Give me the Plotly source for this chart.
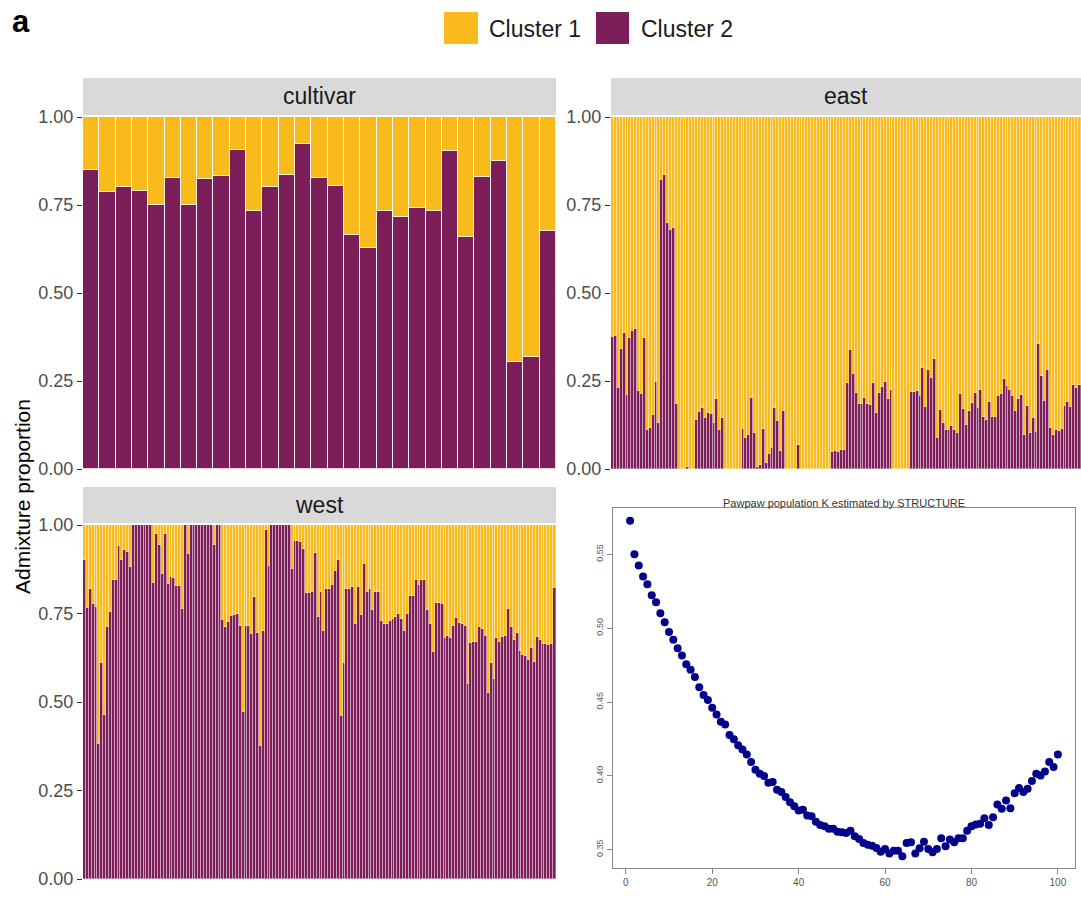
import plotly.graph_objects as go

W, H = 1081, 899

# ---------------- data ----------------
cultivar_c2 = [0.849, 0.787, 0.801, 0.790, 0.751, 0.828, 0.751, 0.825, 0.833, 0.906,
               0.734, 0.800, 0.836, 0.922, 0.828, 0.804, 0.664, 0.629, 0.734, 0.717,
               0.742, 0.734, 0.903, 0.659, 0.830, 0.876, 0.304, 0.317, 0.676]

east_c2 = [0.375, 0.378, 0.229, 0.340, 0.386, 0.211, 0.373, 0.393, 0.397, 0.222,
           0.213, 0.373, 0.112, 0.116, 0.153, 0.246, 0.132, 0.822, 0.834, 0.699,
           0.680, 0.685, 0.184, 0, 0, 0, 0.005, 0, 0, 0.139,
           0.163, 0.172, 0.144, 0.159, 0.156, 0.132, 0.198, 0.112, 0.144, 0,
           0, 0, 0, 0, 0, 0.115, 0.088, 0.097, 0.203, 0.102,
           0.005, 0.012, 0.115, 0.016, 0.043, 0.061, 0.172, 0.137, 0.050, 0.165,
           0, 0, 0, 0, 0.068, 0, 0, 0, 0, 0,
           0, 0, 0, 0, 0, 0, 0.047, 0.050, 0.047, 0.055,
           0.055, 0.244, 0.338, 0.269, 0.217, 0.184, 0.184, 0.203, 0.184, 0.182,
           0.244, 0.159, 0.215, 0.232, 0.246, 0.200, 0.225, 0, 0, 0,
           0, 0, 0, 0.220, 0.220, 0.222, 0.208, 0.286, 0.177, 0.281,
           0.258, 0.312, 0.088, 0.168, 0.130, 0.111, 0.111, 0.123, 0.112, 0.101,
           0.213, 0.170, 0.125, 0.164, 0.187, 0.217, 0.172, 0.225, 0.147, 0.139,
           0.189, 0.149, 0.149, 0.208, 0.213, 0.257, 0.236, 0.225, 0.206, 0.165,
           0.198, 0.211, 0.096, 0.180, 0.101, 0.144, 0.104, 0.354, 0.265, 0.194,
           0.281, 0.116, 0.097, 0.112, 0.107, 0.115, 0.180, 0.191, 0.177, 0.238,
           0.230, 0.240]

west_c2 = [0.902, 0.766, 0.820, 0.776, 0.769, 0.381, 0.610, 0.464, 0.712, 0.754,
           0.845, 0.845, 0.940, 0.902, 0.930, 0.925, 0.880, 1, 1, 1,
           1, 1, 1, 1, 0.837, 0.975, 0.943, 0.861, 0.975, 0.833,
           0.854, 0.849, 0.828, 0.828, 0.764, 1, 0.918, 1, 1, 1,
           1, 1, 1, 1, 1, 0.943, 1, 1, 0.733, 0.712,
           0.726, 0.743, 0.745, 0.750, 0.716, 0.473, 0.716, 0.716, 0.693, 0.797,
           0.695, 0.376, 0.700, 0.987, 0.885, 1, 1, 1, 1, 1,
           1, 1, 0.875, 0.954, 0.956, 0.951, 0.932, 0.807, 0.807, 0.810,
           0.920, 0.740, 0.810, 0.700, 0.820, 0.820, 0.830, 0.870, 0.900, 0.460,
           0.610, 0.820, 0.820, 0.825, 0.720, 0.825, 0.745, 0.890, 0.810, 0.820,
           0.760, 0.810, 0.810, 0.730, 0.720, 0.720, 0.730, 0.735, 0.740, 0.748,
           0.735, 0.700, 0.750, 0.800, 0.800, 0.845, 0.830, 0.845, 0.845, 0.760,
           0.720, 0.640, 0.780, 0.780, 0.776, 0.680, 0.686, 0.680, 0.716, 0.738,
           0.724, 0.720, 0.714, 0.550, 0.667, 0.669, 0.669, 0.712, 0.706, 0.686,
           0.525, 0.610, 0.565, 0.680, 0.670, 0.684, 0.686, 0.763, 0.712, 0.676,
           0.695, 0.643, 0.634, 0.631, 0.620, 0.653, 0.612, 0.684, 0.675, 0.665,
           0.663, 0.662, 0.665, 0.822]

k_values = list(range(1, 101))
k_score = [0.5727, 0.5500, 0.5425, 0.5350, 0.5298, 0.5223, 0.5176, 0.5101, 0.5040, 0.4974,
           0.4922, 0.4865, 0.4815, 0.4756, 0.4718, 0.4670, 0.4600, 0.4548, 0.4514, 0.4461,
           0.4416, 0.4366, 0.4348, 0.4276, 0.4248, 0.4207, 0.4178, 0.4144, 0.4094, 0.4042,
           0.4015, 0.3999, 0.3954, 0.3958, 0.3906, 0.3890, 0.3856, 0.3822, 0.3795, 0.3765,
           0.3770, 0.3731, 0.3727, 0.3690, 0.3668, 0.3659, 0.3641, 0.3641, 0.3622, 0.3618,
           0.3613, 0.3629, 0.3591, 0.3573, 0.3545, 0.3534, 0.3527, 0.3511, 0.3486, 0.3505,
           0.3475, 0.3493, 0.3493, 0.3455, 0.3545, 0.3550, 0.3475, 0.3509, 0.3554, 0.3505,
           0.3482, 0.3505, 0.3578, 0.3524, 0.3569, 0.3550, 0.3578, 0.3578, 0.3629, 0.3659,
           0.3670, 0.3675, 0.3713, 0.3668, 0.3720, 0.3806, 0.3777, 0.3833, 0.3781, 0.3883,
           0.3917, 0.3890, 0.3913, 0.3965, 0.4015, 0.4003, 0.4030, 0.4094, 0.4060, 0.4144]

cluster_names = ["Cluster 1", "Cluster 2"]
cluster_colors = ["#F9BA1B", "#7B1E5A"]
panel_names = ["cultivar", "east", "west"]
y_ticks = [0, 0.25, 0.5, 0.75, 1.0]
y_tick_text = ["0.00", "0.25", "0.50", "0.75", "1.00"]
k_x_ticks = [0, 20, 40, 60, 80, 100]
k_y_ticks = [0.35, 0.40, 0.45, 0.50, 0.55]

FONT = "Liberation Sans, Arial, Helvetica, sans-serif"


def px(x):
    return x / W


def py(y):
    return 1 - y / H


fig = go.Figure()

panels = [
    (cultivar_c2, "x", "y", 0.8),
    (east_c2, "x2", "y2", 0.35),
    (west_c2, "x3", "y3", 0.35),
]
for vals, xa, ya, lw in panels:
    idx = list(range(len(vals)))
    c1 = [round(1 - v, 4) for v in vals]
    fig.add_trace(go.Bar(x=idx, y=vals, xaxis=xa, yaxis=ya, name=cluster_names[1],
                         marker=dict(color=cluster_colors[1], line=dict(color="white", width=lw)),
                         showlegend=False))
    fig.add_trace(go.Bar(x=idx, y=c1, xaxis=xa, yaxis=ya, name=cluster_names[0],
                         marker=dict(color=cluster_colors[0], line=dict(color="white", width=lw)),
                         showlegend=False))

fig.add_trace(go.Scatter(x=k_values, y=k_score, xaxis="x4", yaxis="y4", mode="markers",
                         marker=dict(color="#00008B", size=8), showlegend=False))

# panel pixel boxes (left, right, top, bottom)
box_cult = (83, 556, 117, 469)
box_east = (611, 1081, 117, 469)
box_west = (83, 556, 525, 879)
box_k = (613, 1075, 508, 868)


def yaxis_bar(box):
    return dict(domain=[py(box[3]), py(box[2])], range=[0, 1], tickvals=y_ticks,
                ticktext=y_tick_text, ticks="outside", ticklen=5, tickwidth=1,
                tickcolor="#333333", showgrid=False, zeroline=False, showline=False,
                automargin=False,
                tickfont=dict(family=FONT, size=18, color="#4D4D4D"), fixedrange=True)


def xaxis_bar(box, n):
    return dict(domain=[px(box[0]), px(box[1])], range=[-0.5, n - 0.5], showticklabels=False,
                ticks="", showgrid=False, zeroline=False, showline=False, automargin=False)


layout = dict(
    width=W, height=H, margin=dict(l=0, r=0, t=0, b=0, pad=0), autosize=False,
    paper_bgcolor="white", plot_bgcolor="white",
    barmode="stack", bargap=0,
    xaxis=xaxis_bar(box_cult, len(cultivar_c2)), yaxis=dict(yaxis_bar(box_cult), anchor="x"),
    xaxis2=dict(xaxis_bar(box_east, len(east_c2)), anchor="y2"),
    yaxis2=dict(yaxis_bar(box_east), anchor="x2"),
    xaxis3=dict(xaxis_bar(box_west, len(west_c2)), anchor="y3"),
    yaxis3=dict(yaxis_bar(box_west), anchor="x3"),
    xaxis4=dict(domain=[px(box_k[0]), px(box_k[1])], anchor="y4", range=[-2.96, 103.96],
                tickvals=k_x_ticks, ticks="outside", ticklen=5, tickcolor="#888888",
                showline=True, mirror=True, linecolor="#8a8a8a", linewidth=1,
                showgrid=False, zeroline=False, automargin=False,
                tickfont=dict(family=FONT, size=10, color="#555555")),
    yaxis4=dict(domain=[py(box_k[3]), py(box_k[2])], anchor="x4", range=[0.3376, 0.5814],
                tickvals=k_y_ticks, ticktext=["%.2f" % v for v in k_y_ticks],
                tickangle=-90, ticks="outside", ticklen=5, tickcolor="#888888",
                showline=True, mirror=True, linecolor="#8a8a8a", linewidth=1,
                showgrid=False, zeroline=False, automargin=False,
                tickfont=dict(family=FONT, size=9, color="#555555")),
)
fig.update_layout(**layout)

shapes = []
annotations = []

# facet strips
strips = [("cultivar", 83, 556, 78, 115), ("east", 611, 1081, 78, 115), ("west", 83, 556, 487, 523)]
for name, x0, x1, y0, y1 in strips:
    shapes.append(dict(type="rect", xref="paper", yref="paper", x0=px(x0), x1=px(x1),
                       y0=py(y1), y1=py(y0), fillcolor="#D9D9D9", line=dict(width=0), layer="below"))
    annotations.append(dict(text=name, xref="paper", yref="paper", x=px((x0 + x1) / 2),
                            y=py((y0 + y1) / 2), showarrow=False, xanchor="center", yanchor="middle",
                            font=dict(family=FONT, size=23, color="#1A1A1A")))

# legend
leg = [(cluster_names[0], cluster_colors[0], 444, 478, 487), (cluster_names[1], cluster_colors[1], 596, 629, 639)]
for name, col, x0, x1, tx in leg:
    shapes.append(dict(type="rect", xref="paper", yref="paper", x0=px(x0), x1=px(x1),
                       y0=py(44), y1=py(12), fillcolor=col, line=dict(width=0)))
    annotations.append(dict(text=name, xref="paper", yref="paper", x=px(tx), y=py(29),
                            showarrow=False, xanchor="left", yanchor="middle",
                            font=dict(family=FONT, size=23, color="#1A1A1A")))

annotations.append(dict(text="<b>a</b>", xref="paper", yref="paper", x=px(10), y=py(22),
                        showarrow=False, xanchor="left", yanchor="middle",
                        font=dict(family=FONT, size=31, color="black")))
annotations.append(dict(text="Admixture proportion", xref="paper", yref="paper", x=px(22), y=py(497),
                        showarrow=False, xanchor="center", yanchor="middle", textangle=-90,
                        font=dict(family=FONT, size=21, color="black")))
annotations.append(dict(text="Pawpaw population K estimated by STRUCTURE", xref="paper", yref="paper",
                        x=px(844), y=py(503), showarrow=False, xanchor="center", yanchor="middle",
                        font=dict(family=FONT, size=11, color="#333333")))

fig.update_layout(shapes=shapes, annotations=annotations)

fig.write_html("out.html")
